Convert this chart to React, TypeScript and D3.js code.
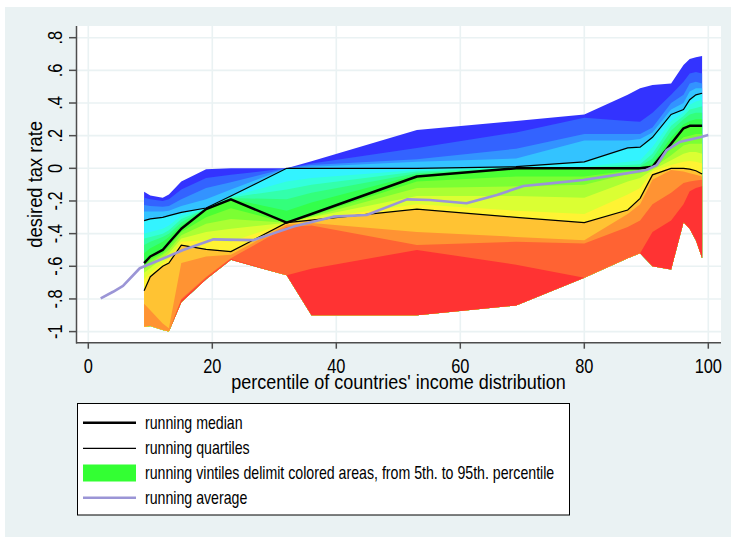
import React, { useEffect, useRef } from 'react';
import * as d3 from 'd3';

// percentile of countries' income distribution where the running vintiles are known
const pctX = [9, 10, 12, 13, 15, 19, 23, 32, 36, 53, 69, 80, 87, 89, 91, 94, 96, 97, 98, 99];

// running vintiles, 5th to 95th percentile
const p05 = [-0.97, -0.965, -0.99, -1.0, -0.82, -0.68, -0.56, -0.655, -0.9, -0.9, -0.84, -0.67, -0.55, -0.52, -0.6, -0.62, -0.33, -0.37, -0.44, -0.55];
const p10 = [-0.97, -0.965, -0.99, -1.0, -0.81, -0.675, -0.555, -0.655, -0.615, -0.5, -0.59, -0.67, -0.55, -0.52, -0.39, -0.32, -0.22, -0.14, -0.12, -0.11];
const p15 = [-0.97, -0.965, -0.99, -1.0, -0.8, -0.665, -0.55, -0.36, -0.35, -0.47, -0.45, -0.46, -0.36, -0.32, -0.22, -0.15, -0.09, -0.08, -0.075, -0.07];
const p20 = [-0.83, -0.87, -0.95, -0.98, -0.58, -0.54, -0.53, -0.345, -0.335, -0.39, -0.42, -0.44, -0.28, -0.22, -0.07, -0.01, -0.02, -0.03, -0.04, -0.05];
const p25 = [-0.75, -0.664, -0.6, -0.58, -0.47, -0.496, -0.51, -0.333, -0.317, -0.25, -0.3, -0.333, -0.255, -0.184, -0.04, 0, 0, -0.005, -0.015, -0.035];
const p30 = [-0.68, -0.64, -0.58, -0.55, -0.45, -0.44, -0.45, -0.333, -0.31, -0.22, -0.26, -0.28, -0.16, -0.12, -0.02, 0.02, 0.04, 0.045, 0.04, 0.03];
const p35 = [-0.64, -0.61, -0.55, -0.52, -0.43, -0.39, -0.37, -0.333, -0.3, -0.17, -0.17, -0.18, -0.08, -0.06, -0.01, 0.05, 0.09, 0.1, 0.1, 0.09];
const p40 = [-0.62, -0.58, -0.53, -0.5, -0.41, -0.34, -0.31, -0.333, -0.295, -0.12, -0.11, -0.1, -0.035, -0.03, 0, 0.08, 0.14, 0.15, 0.15, 0.15];
const p45 = [-0.6, -0.56, -0.52, -0.48, -0.39, -0.3, -0.245, -0.333, -0.29, -0.08, -0.05, -0.05, -0.015, -0.01, 0.005, 0.12, 0.19, 0.2, 0.21, 0.21];
const p50 = [-0.58, -0.54, -0.5, -0.456, -0.37, -0.25, -0.19, -0.333, -0.28, -0.05, 0, 0, 0, 0, 0.01, 0.15, 0.245, 0.26, 0.26, 0.26];
const p55 = [-0.52, -0.49, -0.45, -0.42, -0.35, -0.249, -0.186, -0.26, -0.21, -0.04, 0.001, 0.001, 0.005, 0.005, 0.03, 0.19, 0.27, 0.29, 0.3, 0.3];
const p60 = [-0.47, -0.45, -0.42, -0.4, -0.33, -0.248, -0.182, -0.19, -0.15, -0.03, 0.003, 0.003, 0.01, 0.012, 0.06, 0.23, 0.3, 0.33, 0.34, 0.34];
const p65 = [-0.43, -0.42, -0.4, -0.38, -0.31, -0.247, -0.178, -0.13, -0.1, -0.02, 0.005, 0.006, 0.02, 0.025, 0.09, 0.26, 0.32, 0.36, 0.37, 0.38];
const p70 = [-0.4, -0.39, -0.37, -0.35, -0.29, -0.246, -0.174, -0.08, -0.06, -0.01, 0.008, 0.01, 0.04, 0.05, 0.13, 0.29, 0.34, 0.39, 0.41, 0.42];
const p75 = [-0.32, -0.31, -0.3, -0.29, -0.27, -0.243, -0.17, 0, 0, 0, 0.01, 0.04, 0.125, 0.13, 0.19, 0.33, 0.36, 0.42, 0.45, 0.46];
const p80 = [-0.265, -0.265, -0.265, -0.26, -0.23, -0.19, -0.13, 0, 0.01, 0.04, 0.06, 0.17, 0.17, 0.18, 0.22, 0.36, 0.4, 0.47, 0.49, 0.49];
const p85 = [-0.225, -0.23, -0.235, -0.23, -0.19, -0.12, -0.085, 0, 0.02, 0.055, 0.12, 0.21, 0.21, 0.21, 0.25, 0.4, 0.45, 0.52, 0.53, 0.52];
const p90 = [-0.18, -0.19, -0.2, -0.19, -0.13, -0.06, -0.04, 0, 0.03, 0.125, 0.22, 0.31, 0.29, 0.285, 0.34, 0.45, 0.53, 0.58, 0.59, 0.58];
const p95 = [-0.143, -0.166, -0.18, -0.16, -0.08, -0.006, 0, 0, 0.044, 0.235, 0.29, 0.33, 0.45, 0.49, 0.51, 0.52, 0.633, 0.67, 0.68, 0.688];

const vintiles = [p05, p10, p15, p20, p25, p30, p35, p40, p45, p50, p55, p60, p65, p70, p75, p80, p85, p90, p95];

// running average
const avgX = [2, 4, 5.6, 8.3, 11.6, 15.3, 20.2, 26.6, 33.1, 39.5, 44.9, 51.4, 55.1, 61, 65.9, 70.2, 74.5, 79.8, 86.8, 90, 91.7, 93.3, 95.5, 98.7, 100];
const avgY = [-0.796, -0.756, -0.72, -0.612, -0.56, -0.5, -0.435, -0.44, -0.357, -0.296, -0.286, -0.19, -0.194, -0.214, -0.163, -0.108, -0.092, -0.072, -0.031, -0.01, 0.02, 0.112, 0.163, 0.19, 0.204];

const yTicks = [-1, -0.8, -0.6, -0.4, -0.2, 0, 0.2, 0.4, 0.6, 0.8];
const yTickLabels = ['-1', '-.8', '-.6', '-.4', '-.2', '0', '.2', '.4', '.6', '.8'];
const xTicks = [0, 20, 40, 60, 80, 100];

const legendLabels = [
    'running median',
    'running quartiles',
    'running vintiles delimit colored areas, from 5th. to 95th. percentile',
    'running average',
];

const FONT = '"Liberation Sans", Arial, sans-serif';
const GRID = '#eaf2f3';
const AXIS = '#4d4d4d';
const AVG_COLOR = '#9b95d6';

const App = () => {
    const ref = useRef<SVGSVGElement | null>(null);

    useEffect(() => {
        if (!ref.current) return;
        const svg = d3.select(ref.current);
        svg.selectAll('*').remove();

        const W = 731, H = 537;
        const plot = { left: 76, top: 26, right: 721, bottom: 342.7 };

        svg.append('rect').attr('width', W).attr('height', H).attr('fill', 'white');
        svg.append('rect').attr('x', 5).attr('y', 7).attr('width', W - 5).attr('height', H - 7).attr('fill', GRID);
        svg.append('rect')
            .attr('x', plot.left).attr('y', plot.top)
            .attr('width', plot.right - plot.left).attr('height', plot.bottom - plot.top)
            .attr('fill', 'white');

        const x = d3.scaleLinear().domain([0, 100]).range([88.3, 708.3]);
        const y = d3.scaleLinear().domain([-1, 0.8]).range([331.6, 37.7]);

        // grid
        const grid = svg.append('g').attr('stroke', GRID).attr('stroke-width', 1.6);
        yTicks.forEach(t => {
            grid.append('line').attr('x1', plot.left).attr('x2', plot.right).attr('y1', y(t)).attr('y2', y(t));
        });
        xTicks.forEach(t => {
            grid.append('line').attr('x1', x(t)).attr('x2', x(t)).attr('y1', plot.top).attr('y2', plot.bottom);
        });

        // colored areas between vintiles: paint from the top band down so no seams show
        const nBands = vintiles.length - 1;
        const idx = d3.range(pctX.length);
        for (let k = nBands - 1; k >= 0; k--) {
            const upper = vintiles[k + 1];
            const area = d3.area<number>()
                .x(i => x(pctX[i]))
                .y0(i => y(p05[i]))
                .y1(i => y(upper[i]));
            svg.append('path')
                .attr('d', area(idx))
                .attr('fill', d3.hsl((240 * k) / (nBands - 1), 1, 0.6).formatHex());
        }

        const line = d3.line<number>().x(i => x(pctX[i]));
        [p25, p75].forEach(arr => {
            svg.append('path')
                .attr('d', line.y(i => y(arr[i]))(idx))
                .attr('fill', 'none').attr('stroke', 'black').attr('stroke-width', 1.2);
        });
        svg.append('path')
            .attr('d', line.y(i => y(p50[i]))(idx))
            .attr('fill', 'none').attr('stroke', 'black').attr('stroke-width', 2.5).attr('stroke-linejoin', 'round');

        const avgLine = d3.line<number>().x((d, i) => x(avgX[i])).y(d => y(d));
        svg.append('path')
            .attr('d', avgLine(avgY))
            .attr('fill', 'none').attr('stroke', AVG_COLOR).attr('stroke-width', 2.6).attr('stroke-linejoin', 'round');

        // axes
        const ax = svg.append('g').attr('stroke', AXIS).attr('stroke-width', 1.5);
        ax.append('line').attr('x1', plot.left + 0.5).attr('x2', plot.left + 0.5).attr('y1', plot.top).attr('y2', plot.bottom + 0.7);
        ax.append('line').attr('x1', plot.left).attr('x2', plot.right).attr('y1', plot.bottom).attr('y2', plot.bottom);
        yTicks.forEach(t => {
            ax.append('line').attr('x1', plot.left - 7).attr('x2', plot.left).attr('y1', y(t)).attr('y2', y(t));
        });
        xTicks.forEach(t => {
            ax.append('line').attr('x1', x(t)).attr('x2', x(t)).attr('y1', plot.bottom).attr('y2', plot.bottom + 6);
        });

        const text = (tx: number, ty: number, s: string, size: number, sx: number, rot = 0, anchor = 'middle') =>
            svg.append('text')
                .attr('transform', `translate(${tx},${ty}) rotate(${rot}) scale(${sx},1)`)
                .attr('text-anchor', anchor)
                .attr('font-family', FONT)
                .attr('font-size', size)
                .attr('fill', 'black')
                .text(s);

        yTicks.forEach((t, i) => text(61.7, y(t), yTickLabels[i], 20, 0.82, -90));
        xTicks.forEach(t => text(x(t), 372.7, String(t), 20, 0.82));
        text((plot.left + plot.right) / 2, 388.5, "percentile of countries' income distribution", 20, 0.9);
        text(42, (plot.top + plot.bottom) / 2, 'desired tax rate', 20, 0.92, -90);

        // legend
        const lg = svg.append('g');
        lg.append('rect').attr('x', 77.5).attr('y', 403.5).attr('width', 492).attr('height', 111.5)
            .attr('fill', 'white').attr('stroke', 'black').attr('stroke-width', 1);
        const rows = [422.7, 448.3, 473, 497.7];
        lg.append('line').attr('x1', 83).attr('x2', 136).attr('y1', rows[0]).attr('y2', rows[0]).attr('stroke', 'black').attr('stroke-width', 2.5);
        lg.append('line').attr('x1', 83).attr('x2', 136).attr('y1', rows[1]).attr('y2', rows[1]).attr('stroke', 'black').attr('stroke-width', 1.2);
        lg.append('rect').attr('x', 83).attr('y', rows[2] - 8.5).attr('width', 53).attr('height', 17).attr('fill', '#33ff33');
        lg.append('line').attr('x1', 83).attr('x2', 136).attr('y1', rows[3]).attr('y2', rows[3]).attr('stroke', AVG_COLOR).attr('stroke-width', 2.6);
        legendLabels.forEach((s, i) => text(145, rows[i] + 6, s, 17.5, 0.81, 0, 'start'));
    }, []);

    return (
        <svg
            ref={ref}
            width={731}
            height={537}
            style={{ position: 'absolute', left: 0, top: 0, display: 'block' }}
        />
    );
};

export default App;
